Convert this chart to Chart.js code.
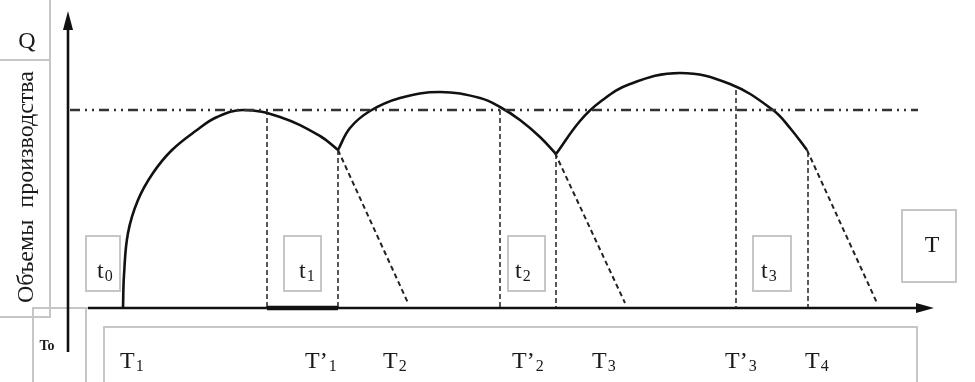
<!DOCTYPE html>
<html>
<head>
<meta charset="utf-8">
<script src="https://cdn.jsdelivr.net/npm/chart.js@4"></script>
<style>
html,body{margin:0;padding:0;background:#fff;}
#wrap{width:975px;height:382px;}
</style>
</head>
<body>
<div id="wrap"><canvas id="c" width="975" height="382"></canvas></div>
<script>
// ---- Data (time on x, production volume Q on y; origin at the axes crossing) ----
const curve1 = [[55,0],[56,33],[60,75],[70,108],[85,135],[104,158],[129,178],[149,191],[175,198],[212,191],[252,172],[270,158]];
const curve2 = [[270,158],[282,180],[302,197],[332,210],[372,216],[412,210],[432,201],[452,188],[472,171],[488,154]];
const curve3 = [[488,154],[512,187],[532,206],[562,224],[612,235],[662,224],[705,198],[722,180],[739,158]];
const decline1 = [[270,158],[340,5]];
const decline2 = [[487,155],[557,5]];
const decline3 = [[739,158],[809,5]];
const levelLine = [[2,198],[850,198]];
const markerTimes = [199, 270, 432, 488, 668, 740];
const markerTops  = [198, 158, 198, 154, 218, 156];
const idleSegment = [[199,0],[270,0]];
const yAxisLine = [[0,-44],[0,290]];
const xAxisLine = [[20,0],[852,0]];

// labels
const bottomMain = ["T","T\u2019","T","T\u2019","T","T\u2019","T"];
const bottomSub  = ["1","1","2","2","3","3","4"];
const bottomX    = [52, 237, 315, 444, 524, 657, 737];
const intervalMain = ["t","t","t","t"];
const intervalSub  = ["0","1","2","3"];
const intervalX    = [29, 231, 447, 693];
const yTitle = "Объемы  производства";
const yLetter = "Q";
const xLetter = "T";
const originLabel = "To";

// ---- layout (boxes in data units: x1, yTop, x2, yBottom) ----
const GRAY = "#c6c6c6";
const boxes = [
  [18, 72, 52, 17],     // t0
  [216, 72, 253, 17],   // t1
  [440, 72, 477, 17],   // t2
  [685, 72, 723, 17],   // t3
  [834, 98, 888, 26]    // T
];

const pts = a => a.map(p => ({x:p[0], y:p[1]}));
const lineDs = (data, opts) => Object.assign({
  data: pts(data), showLine: true, pointRadius: 0, borderColor: "#111",
  borderWidth: 2.4, fill: false, clip: false, tension: 0
}, opts);

const datasets = [
  lineDs(yAxisLine, {borderWidth: 2.6}),
  lineDs(xAxisLine, {borderWidth: 2.6}),
  lineDs(idleSegment, {borderWidth: 4.5}),
  lineDs(levelLine, {borderWidth: 2.6, borderColor: "#333", borderDash: [10,5,2,5,2,5]}),
];
markerTimes.forEach((t,i) => datasets.push(lineDs([[t,markerTops[i]],[t,0]], {borderWidth: 1.5, borderColor:"#222", borderDash:[5,3]})));
[decline1, decline2, decline3].forEach(d => datasets.push(lineDs(d, {borderWidth: 2, borderColor:"#222", borderDash:[5,3.5]})));
[curve1, curve2, curve3].forEach(c => datasets.push(lineDs(c, {borderWidth: 2.6, tension: 0.4})));

const SERIF = '"Liberation Serif", "DejaVu Serif", serif';

const decor = {
  id: "decor",
  beforeDatasetsDraw(chart) {
    const {ctx, scales:{x, y}} = chart;
    const X = v => x.getPixelForValue(v), Y = v => y.getPixelForValue(v);
    ctx.save();
    ctx.strokeStyle = GRAY; ctx.lineWidth = 2;
    ctx.beginPath();
    // left title panel
    ctx.moveTo(X(-18), Y(320)); ctx.lineTo(X(-18), Y(-9)); ctx.lineTo(X(-70), Y(-9));
    ctx.moveTo(X(-70), Y(248)); ctx.lineTo(X(-18), Y(248));
    // origin box
    ctx.moveTo(X(-35), Y(-80)); ctx.lineTo(X(-35), Y(0)); ctx.lineTo(X(20), Y(0));
    ctx.moveTo(X(18), Y(0)); ctx.lineTo(X(18), Y(-80));
    // bottom label box
    ctx.moveTo(X(36), Y(-80)); ctx.lineTo(X(36), Y(-19)); ctx.lineTo(X(849), Y(-19)); ctx.lineTo(X(849), Y(-80));
    ctx.stroke();
    boxes.forEach(b => { ctx.strokeRect(X(b[0]), Y(b[1]), X(b[2])-X(b[0]), Y(b[3])-Y(b[1])); });
    ctx.restore();
  },
  afterDatasetsDraw(chart) {
    const {ctx, scales:{x, y}} = chart;
    const X = v => x.getPixelForValue(v), Y = v => y.getPixelForValue(v);
    ctx.save();
    ctx.fillStyle = "#111";
    // arrow heads
    ctx.beginPath();
    ctx.moveTo(X(0), Y(297)); ctx.lineTo(X(0)-5, Y(278)); ctx.lineTo(X(0)+5, Y(278)); ctx.closePath(); ctx.fill();
    ctx.beginPath();
    ctx.moveTo(X(866), Y(0)); ctx.lineTo(X(848), Y(0)-5); ctx.lineTo(X(848), Y(0)+5); ctx.closePath(); ctx.fill();

    const sub = (main, s, lx, base, size, subSize, dy) => {
      ctx.font = size + "px " + SERIF;
      ctx.textAlign = "left"; ctx.textBaseline = "alphabetic";
      ctx.fillText(main, lx, base);
      const w = ctx.measureText(main).width;
      ctx.font = subSize + "px " + SERIF;
      ctx.fillText(s, lx + w + 1, base + dy);
    };
    ctx.fillStyle = "#1a1a1a";
    bottomMain.forEach((m,i) => sub(m, bottomSub[i], X(bottomX[i]), Y(-60), 24, 16, 3));
    intervalMain.forEach((m,i) => sub(m, intervalSub[i], X(intervalX[i]), Y(30), 24, 16, 3));
    ctx.font = "24px " + SERIF; ctx.textAlign = "center";
    ctx.fillText(xLetter, X(864), Y(56));
    ctx.fillText(yLetter, X(-41), Y(260));
    ctx.font = "bold 14px " + SERIF;
    ctx.fillText(originLabel, X(-21), Y(-42));
    ctx.save();
    ctx.translate(X(-41), Y(121));
    ctx.rotate(-Math.PI/2);
    ctx.font = "24px " + SERIF; ctx.textAlign = "center"; ctx.textBaseline = "middle";
    ctx.fillText(yTitle, 0, 0);
    ctx.restore();
    ctx.restore();
  }
};

new Chart(document.getElementById("c"), {
  type: "scatter",
  data: { datasets },
  options: {
    responsive: false, animation: false, devicePixelRatio: 1,
    layout: { padding: 0 },
    plugins: { legend: {display:false}, tooltip: {enabled:false} },
    scales: {
      x: { type: "linear", display: false, min: -68, max: 907 },
      y: { type: "linear", display: false, min: -74, max: 308 }
    }
  },
  plugins: [decor]
});
</script>
</body>
</html>
